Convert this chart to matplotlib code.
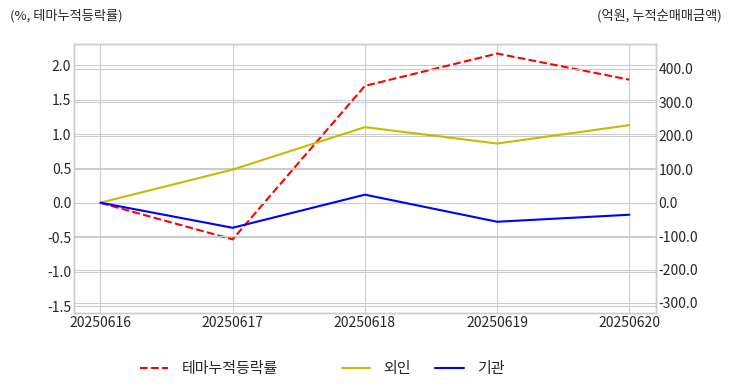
import numpy as np
import matplotlib.pyplot as plt

plt.style.use('seaborn-v0_8-whitegrid')
plt.rcParams['font.family'] = ['Noto Sans CJK KR', 'DejaVu Sans']
plt.rcParams['axes.unicode_minus'] = False
plt.rcParams['font.size'] = 10

# data
dates = ['20250616', '20250617', '20250618', '20250619', '20250620']
theme_ret = [0.0, -0.53, 1.70, 2.17, 1.79]      # %, 테마누적등락률
foreign = [0.0, 99.0, 226.0, 177.0, 232.0]      # 억원, 외인
institution = [0.0, -75.0, 24.0, -57.0, -36.0]  # 억원, 기관

x = np.arange(len(dates))

fig = plt.figure(figsize=(7.32, 3.92), dpi=100)
ax1 = fig.add_axes([0.101, 0.2015, 0.795, 0.6865])
ax2 = ax1.twinx()

l1, = ax1.plot(x, theme_ret, '--', color='red', lw=1.5, label='테마누적등락률')
l2, = ax2.plot(x, foreign, '-', color='y', lw=1.5, label='외인')
l3, = ax2.plot(x, institution, '-', color='b', lw=1.5, label='기관')

ax1.set_xlim(-0.2, 4.2)
ax1.set_ylim(-1.6, 2.31)
ax2.set_ylim(-330, 475)
ax1.set_xticks(x)
ax1.set_xticklabels(dates)
ax1.set_yticks([-1.5, -1.0, -0.5, 0.0, 0.5, 1.0, 1.5, 2.0])
ax1.set_yticklabels(['%.1f' % v for v in ax1.get_yticks()])
ax2.set_yticks([-300, -200, -100, 0, 100, 200, 300, 400])
ax2.set_yticklabels(['%.1f' % v for v in ax2.get_yticks()])
ax2.grid(True)

for ax in (ax1, ax2):
    ax.tick_params(labelsize=10, colors='#262626', pad=2)
    for s in ax.spines.values():
        s.set_visible(True)
        s.set_color('#cccccc')

fig.text(10/732, 1-16/392, '(%, 테마누적등락률)', fontsize=9.5, va='center', ha='left', color='#262626')
fig.text(722/732, 1-16/392, '(억원, 누적순매매금액)', fontsize=9.5, va='center', ha='right', color='#262626')

fig.legend(handles=[l1], loc='center left', bbox_to_anchor=(126/732, 1-369/392),
           frameon=False, fontsize=10.8, handlelength=1.9, handletextpad=0.9)
fig.legend(handles=[l2, l3], loc='center left', bbox_to_anchor=(328/732, 1-369/392),
           frameon=False, fontsize=10.8, ncol=2, columnspacing=1.6,
           handlelength=1.9, handletextpad=0.9)

plt.savefig('out.png', dpi=100)
